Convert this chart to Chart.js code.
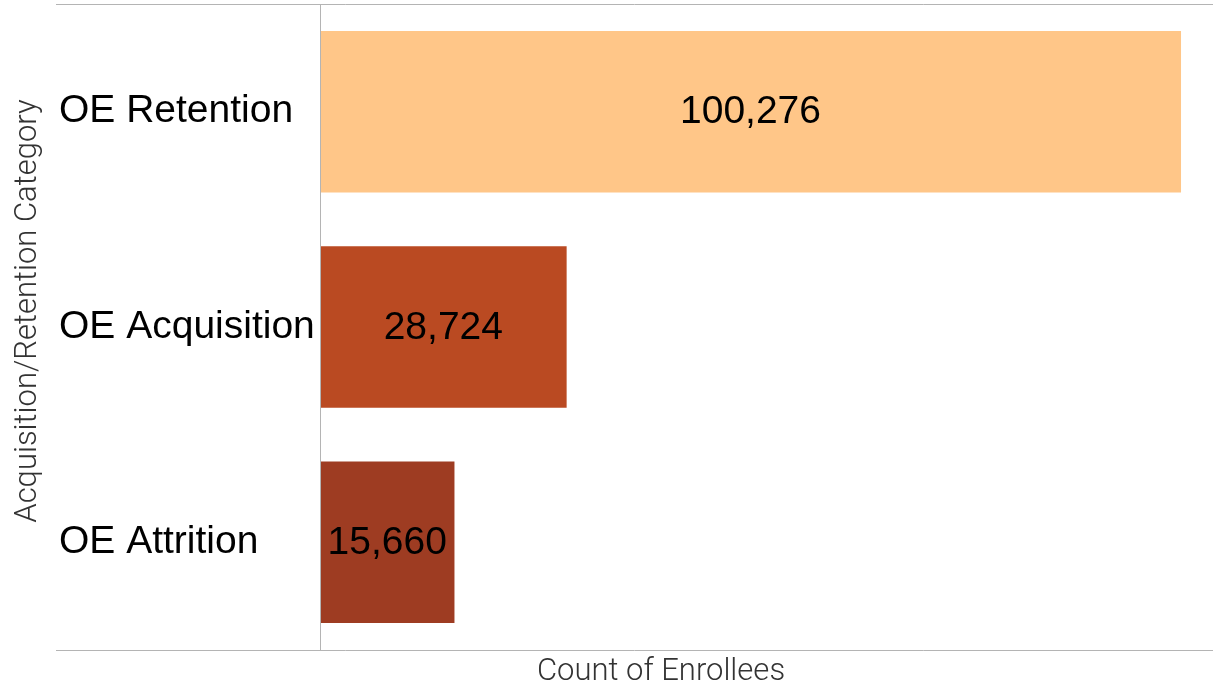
<!DOCTYPE html>
<html>
<head>
<meta charset="utf-8">
<script src="https://cdn.jsdelivr.net/npm/chart.js@4"></script>
<style>
    html, body { margin: 0; padding: 0; background: #ffffff; }
    #wrap { width: 1213px; height: 685px; }
</style>
</head>
<body>
<div id="wrap"><canvas id="chart"></canvas></div>
<script>
const categories = ['OE Retention', 'OE Acquisition', 'OE Attrition'];
const enrollees = [100276, 28724, 15660];
const barColors = ['#ffc688', '#ba4a22', '#9e3c22'];
const xMax = 104000;

const lineColor = '#b4b4b4';

// frame lines, axis titles and the value printed inside each bar
const decorations = {
    id: 'decorations',
    afterDatasetsDraw(chart) {
        const ctx = chart.ctx;
        const area = chart.chartArea;

        ctx.save();
        ctx.strokeStyle = lineColor;
        ctx.lineWidth = 1;
        ctx.beginPath();
        ctx.moveTo(56, Math.round(area.top) + 0.5);
        ctx.lineTo(area.right, Math.round(area.top) + 0.5);
        ctx.moveTo(56, Math.round(area.bottom) + 0.5);
        ctx.lineTo(area.right, Math.round(area.bottom) + 0.5);
        ctx.moveTo(Math.round(area.left) + 0.5, area.top);
        ctx.lineTo(Math.round(area.left) + 0.5, area.bottom);
        ctx.stroke();

        // values
        ctx.fillStyle = '#000000';
        ctx.font = '39px "Liberation Sans", Arial, sans-serif';
        ctx.textAlign = 'center';
        ctx.textBaseline = 'middle';
        chart.getDatasetMeta(0).data.forEach((bar, i) => {
            const cx = (bar.x + bar.base) / 2;
            ctx.fillText(enrollees[i].toLocaleString('en-US'), cx, bar.y + 1);
        });

        // axis titles
        ctx.fillStyle = '#333333';
        ctx.font = '300 31px Roboto, sans-serif';
        ctx.fillText('Count of Enrollees', 661, 672);

        ctx.translate(28, 311);
        ctx.rotate(-Math.PI / 2);
        ctx.fillText('Acquisition/Retention Category', 0, 0);
        ctx.restore();
    }
};

document.addEventListener("DOMContentLoaded", () => {
    const canvas = document.getElementById('chart');

    new Chart(canvas, {
        type: 'bar',
        data: {
            labels: categories,
            datasets: [{
                label: 'Count of Enrollees',
                data: enrollees,
                backgroundColor: barColors,
                borderWidth: 0,
                barPercentage: 0.75,
                categoryPercentage: 1
            }]
        },
        options: {
            indexAxis: 'y',
            responsive: true,
            maintainAspectRatio: false,
            animation: false,
            layout: {
                padding: { left: 59, top: 4, right: 0, bottom: 35 }
            },
            plugins: {
                legend: { display: false },
                tooltip: { enabled: false }
            },
            scales: {
                x: {
                    display: false,
                    min: 0,
                    max: xMax
                },
                y: {
                    grid: { display: false },
                    border: { display: false },
                    afterFit(scale) {
                        scale.width = 261;
                        scale.paddingTop = 0;
                        scale.paddingBottom = 0;
                    },
                    ticks: {
                        crossAlign: 'far',
                        color: '#000000',
                        padding: 0,
                        font: { family: '"Liberation Sans", Arial, sans-serif', size: 39 }
                    }
                }
            }
        },
        plugins: [decorations]
    });
});
</script>
</body>
</html>
